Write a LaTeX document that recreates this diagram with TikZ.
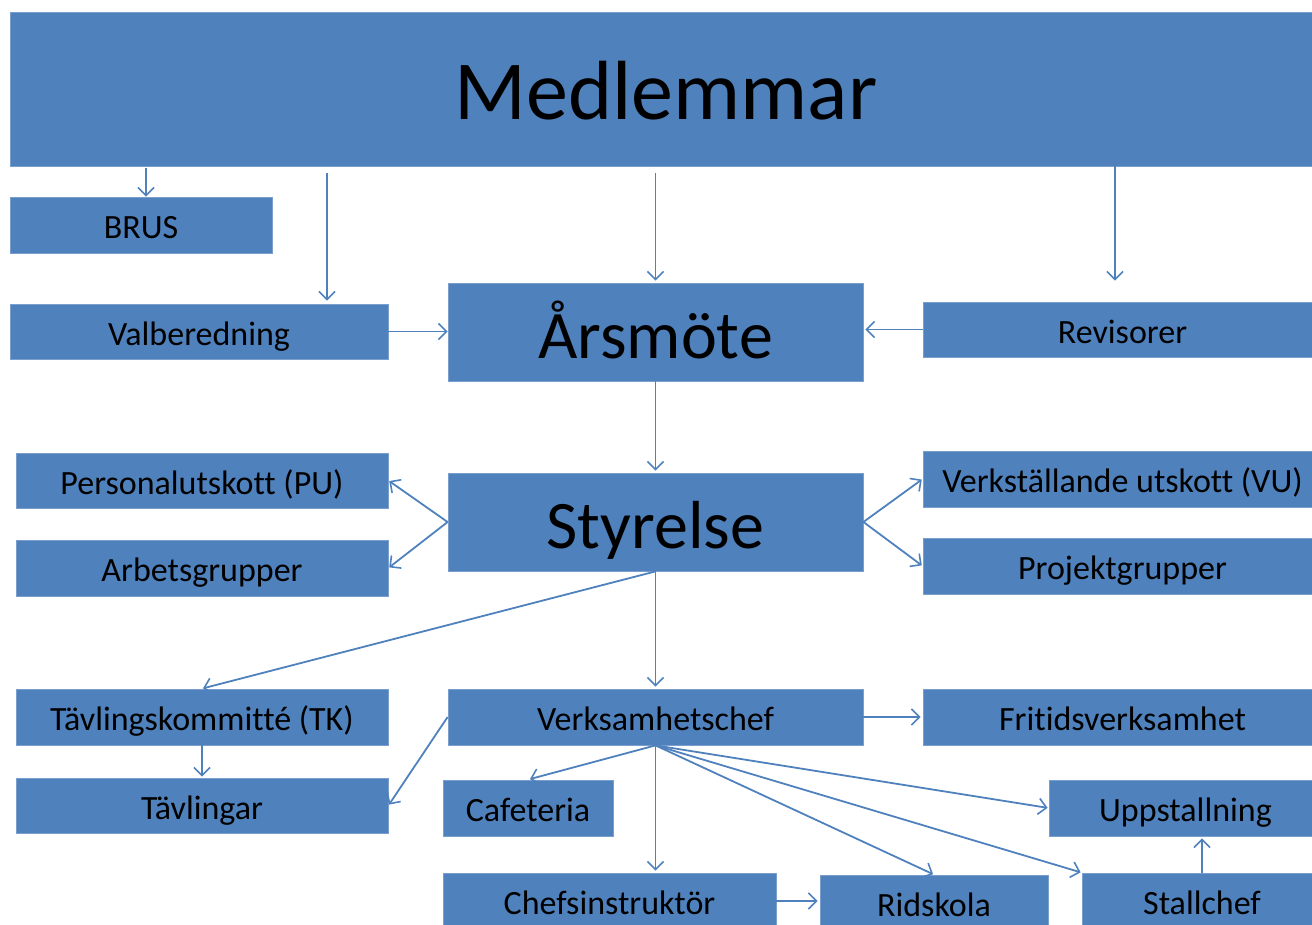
\documentclass[tikz,border=0pt]{standalone}
\usepackage{fontspec}
\setmainfont{Carlito}[Ligatures=NoCommon]
\usetikzlibrary{arrows.meta}
\definecolor{boxblue}{HTML}{4F81BD}
\definecolor{boxedge}{HTML}{7A9FCF}
\definecolor{arrblue}{HTML}{4F81BD}
\tikzset{
  box/.style={fill=boxblue, draw=boxedge, line width=0.8pt, inner sep=0pt, anchor=center,
    text height=27pt, text depth=0pt, text=black, font=\fontsize{34}{40}\selectfont},
  bigbox/.style={box, text height=52pt, font=\fontsize{68}{80}\selectfont},
  hugebox/.style={box, text height=62pt, font=\fontsize{84}{96}\selectfont},
  arr/.style={draw=arrblue, line width=1.8pt, -{Straight Barb[length=8pt,width=16pt,line width=1.6pt]}}
}
\begin{document}
\begin{tikzpicture}[x=1pt,y=-1pt]
\useasboundingbox (0,0) rectangle (1312,925);
\clip (0,0) rectangle (1312,925);
% nodes
\node[hugebox, minimum width=1312pt, minimum height=154pt] (med) at (666,89) {Medlemmar};
\node[box, minimum width=262pt, minimum height=56pt] (brus) at (141,225) {BRUS};
\node[box, minimum width=378pt, minimum height=55pt] (val) at (199,331.5) {Valberedning};
\node[bigbox, minimum width=415pt, minimum height=98pt] (ars) at (655.5,332) {Årsmöte};
\node[box, minimum width=399pt, minimum height=55pt] (rev) at (1122.5,329.5) {Revisorer};
\node[box, minimum width=372pt, minimum height=55pt] (pu) at (202,480.5) {Personalutskott (PU)};
\node[box, minimum width=372pt, minimum height=56pt] (arb) at (202,568) {Arbetsgrupper};
\node[bigbox, minimum width=415pt, minimum height=98pt] (sty) at (655.5,522) {Styrelse};
\node[box, minimum width=399pt, minimum height=56pt] (vu) at (1122.5,479) {Verkställande utskott (VU)};
\node[box, minimum width=399pt, minimum height=56pt] (proj) at (1122.5,566) {Projektgrupper};
\node[box, minimum width=372pt, minimum height=56pt] (tk) at (202,717) {Tävlingskommitté (TK)};
\node[box, minimum width=372pt, minimum height=55pt] (tav) at (202,805.5) {Tävlingar};
\node[box, minimum width=415pt, minimum height=56pt] (verk) at (655.5,717) {Verksamhetschef};
\node[box, minimum width=399pt, minimum height=56pt] (frit) at (1122.5,717) {Fritidsverksamhet};
\node[box, minimum width=170pt, minimum height=56pt] (caf) at (528,808) {Cafeteria};
\node[box, minimum width=273pt, minimum height=56pt] (upp) at (1185.5,808) {Uppstallning};
\node[box, minimum width=333pt, minimum height=56pt] (chef) at (609.5,901) {Chefsinstruktör};
\node[box, minimum width=228pt, minimum height=56pt] (rid) at (934,903) {Ridskola};
\node[box, minimum width=240pt, minimum height=56pt] (stall) at (1202,901) {Stallchef};
% helper coordinates
\coordinate (cb) at ([xshift=5]brus.north);
\coordinate (cv) at ([xshift=128]val.north);
\coordinate (cr) at ([xshift=-7.5]rev.north);
% connectors
\draw[arr, shorten <=2pt] (cb |- med.south) -- (cb);
\draw[arr, shorten <=7pt, shorten >=3pt] (cv |- med.south) -- (cv);
\draw[arr, shorten <=7pt, shorten >=2pt] (ars.north |- med.south) -- (ars.north);
\draw[arr, shorten >=21pt] (cr |- med.south) -- (cr);
\draw[arr] (val.east) -- (val.east -| ars.west);
\draw[arr, shorten >=2pt] (rev.west) -- (rev.west -| ars.east);
\draw[arr, shorten >=2pt] (ars.south) -- (sty.north);
\draw[arr, shorten >=1pt] (sty.west) -- (pu.east);
\draw[arr, shorten >=1pt] (sty.west) -- (arb.east);
\draw[arr, shorten >=1pt] (sty.east) -- (vu.west);
\draw[arr, shorten >=1pt] (sty.east) -- (proj.west);
\draw[arr, shorten >=1pt] (sty.south) -- (tk.north);
\draw[arr, shorten >=2pt] (sty.south) -- (verk.north);
\draw[arr, shorten >=2pt] (verk.east) -- (frit.west);
\draw[arr, shorten >=1pt] (tk.south) -- (tav.north);
\draw[arr, shorten >=1pt] (verk.west) -- (tav.east);
\draw[arr, shorten >=2pt] (verk.south) -- (caf.north);
\draw[arr, shorten >=2pt] (verk.south) -- (verk.south |- chef.north);
\draw[arr, shorten >=1pt] (verk.south) -- (rid.north);
\draw[arr, shorten >=1pt] (verk.south) -- (upp.west);
\draw[arr, shorten >=1pt] (verk.south) -- (stall.north west);
\draw[arr, shorten >=2pt] (chef.east) -- (chef.east -| rid.west);
\draw[arr, shorten >=2pt] (stall.north) -- (upp.south -| stall.north);
\end{tikzpicture}
\end{document}
